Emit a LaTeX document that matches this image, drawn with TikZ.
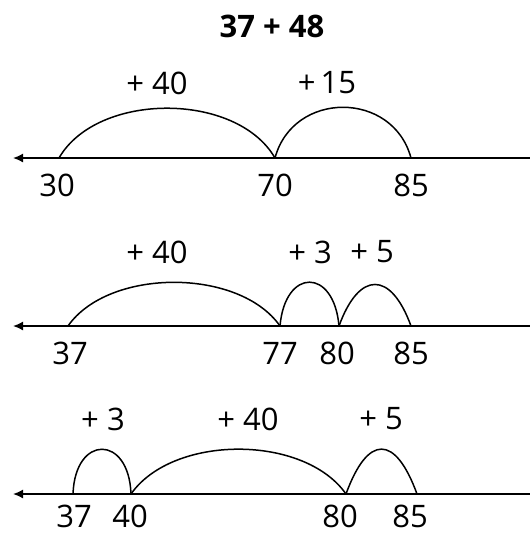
\documentclass[tikz,border=0pt]{standalone}
\usepackage{fontspec}
\setmainfont{Open Sans}
\usetikzlibrary{positioning,arrows.meta}

\begin{document}
\begin{tikzpicture}[x=1pt, y=-1pt,
    numline/.style={line width=1.6pt, -{Latex[length=10pt,width=9pt]}},
    hop/.style={line width=1.5pt},
    numlabel/.style={font=\fontsize{31}{36}\selectfont, inner sep=0pt},
    jumplabel/.style={font=\fontsize{31}{36}\selectfont, inner sep=0pt}
]
  \useasboundingbox (0,0) rectangle (530,536);

  % Title
  \node[numlabel, font=\fontsize{31}{36}\selectfont\bfseries] (title) at (272,26) {37 + 48};

  % Line 1
  \coordinate (r1) at (530,158);
  \coordinate (l1) at (13,158);
  \coordinate (a30) at (59,158);
  \coordinate (a70) at (275,158);
  \coordinate (a85) at (411,158);
  \draw[numline] (r1) -- (l1);
  \draw[hop] (a30) to[out=60,in=120,looseness=0.91] (a70);
  \draw[hop] (a70) to[out=75,in=105,looseness=1.32] (a85);
  \node[jumplabel] (j1a) at (157,83) {+ 40};
  \node[jumplabel] (j1b) at (327,83) {+\,15};
  \node[numlabel] (n30) at (57,185) {30};
  \node[numlabel] (n70) at (275,185) {70};
  \node[numlabel] (n85) at (411,185) {85};

  % Line 2
  \coordinate (r2) at (530,326);
  \coordinate (l2) at (13,326);
  \coordinate (b37) at (68,326);
  \coordinate (b77) at (280,326);
  \coordinate (b80) at (339,326);
  \coordinate (b85) at (411,326);
  \draw[numline] (r2) -- (l2);
  \draw[hop] (b37) to[out=55,in=125,looseness=0.86] (b77);
  \draw[hop] (b77) to[out=85,in=95,looseness=2.55] (b80);
  \draw[hop] (b80) to[out=70,in=110,looseness=2.1] (b85);
  \node[jumplabel] (j2a) at (157,252) {+ 40};
  \node[jumplabel] (j2b) at (310,252) {+ 3};
  \node[jumplabel] (j2c) at (372,252) {+ 5};
  \node[numlabel] (n37) at (70,353) {37};
  \node[numlabel] (n77) at (280,353) {77};
  \node[numlabel] (n80) at (337,353) {80};
  \node[numlabel] (n85b) at (411,353) {85};

  % Line 3
  \coordinate (r3) at (530,494);
  \coordinate (l3) at (13,494);
  \coordinate (c37) at (73,494);
  \coordinate (c40) at (131,494);
  \coordinate (c80) at (346,494);
  \coordinate (c85) at (417,494);
  \draw[numline] (r3) -- (l3);
  \draw[hop] (c37) to[out=88,in=92,looseness=2.64] (c40);
  \draw[hop] (c40) to[out=55,in=125,looseness=0.87] (c80);
  \draw[hop] (c80) to[out=70,in=110,looseness=2.3] (c85);
  \node[jumplabel] (j3a) at (103,419) {+ 3};
  \node[jumplabel] (j3b) at (248,419) {+ 40};
  \node[jumplabel] (j3c) at (381,419) {+ 5};
  \node[numlabel] (n37b) at (74,516) {37};
  \node[numlabel] (n40) at (130,516) {40};
  \node[numlabel] (n80b) at (340,516) {80};
  \node[numlabel] (n85c) at (410,516) {85};
\end{tikzpicture}
\end{document}
